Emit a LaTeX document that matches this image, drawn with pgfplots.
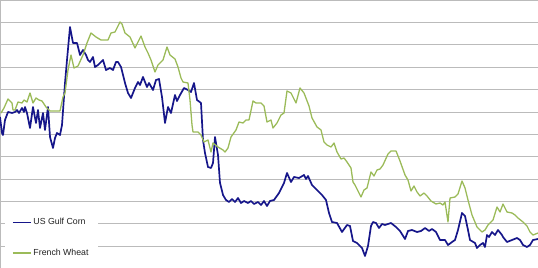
\documentclass[border=0pt]{standalone}
\usepackage{pgfplots}
\pgfplotsset{compat=1.18}
\usepackage{pgfplotstable}
\usepackage{fontspec}
\setmainfont{Liberation Sans}
\definecolor{corn}{HTML}{16168A}
\definecolor{wheat}{HTML}{9BBB59}
\definecolor{gridc}{HTML}{BBBBBB}

\pgfplotstableread{
x y
0 151
2 135
3 133
5 148
8 156
12 155
15 156
17 158
19 155
22 160
24 156
25 161
27 155
30 140
33 161
36 145
38 158
40 140
43 155
45 138
48 161
50 131
53 120
55 130
57 135
60 133
62 143
65 185
67 208
70 241
73 225
77 225
80 213
83 218
86 213
88 208
90 206
93 211
95 201
98 203
100 205
103 208
106 198
110 200
113 198
116 206
118 206
121 201
125 185
128 175
131 170
135 180
138 186
140 183
143 191
147 181
149 185
153 178
156 188
159 189
162 171
165 145
168 161
171 155
175 173
177 167
180 173
184 180
188 178
191 176
194 185
197 168
201 165
203 128
205 115
208 101
211 100
213 105
215 131
218 113
220 85
223 73
226 68
229 66
232 69
235 66
238 70
241 65
244 67
248 65
251 67
254 64
258 66
261 63
264 67
267 62
270 67
274 68
279 75
284 85
287 95
291 86
294 91
299 90
304 93
306 89
308 92
312 83
317 78
322 73
326 68
329 55
332 46
337 45
342 36
347 43
350 42
353 27
357 25
362 20
365 12
368 22
371 42
373 46
376 45
379 40
382 44
385 43
391 45
396 41
400 37
405 29
408 37
412 38
417 36
421 37
425 40
429 37
432 39
436 36
440 28
445 28
448 23
452 26
455 28
458 38
462 55
465 52
468 38
470 28
475 25
477 20
480 23
483 25
485 21
487 33
489 31
492 36
495 33
498 38
502 33
503 31
507 26
512 28
517 30
520 28
523 23
527 21
530 23
533 28
538 29
}\corn

\pgfplotstableread{
x y
1 155
4 160
8 169
12 165
13 158
15 158
18 166
22 165
24 168
27 166
30 175
33 165
36 170
39 168
42 167
46 161
50 157
60 157
63 171
65 175
68 198
71 213
74 200
78 202
83 213
87 225
91 235
96 231
101 228
108 228
111 235
115 236
120 246
122 244
125 235
130 231
135 220
138 226
141 232
145 221
148 215
151 208
155 196
158 203
163 208
167 221
170 213
175 209
178 201
181 190
183 186
188 185
190 168
192 143
193 136
198 136
201 133
204 126
208 128
211 116
213 125
218 121
223 118
225 116
228 120
231 131
236 138
239 146
243 145
246 148
249 148
253 167
256 165
261 165
264 162
267 146
271 148
273 140
277 145
281 153
284 155
287 177
291 175
296 165
300 180
304 175
309 162
312 150
317 141
321 138
324 126
327 123
331 121
334 125
337 116
341 109
344 110
347 106
351 100
353 86
355 83
359 75
361 71
364 78
367 80
369 88
371 96
374 92
377 98
380 99
383 103
388 114
391 117
396 117
400 107
405 93
408 88
411 77
414 82
417 76
420 72
424 75
427 72
431 67
436 64
440 65
443 63
445 66
448 46
450 70
455 71
458 74
462 87
465 80
468 68
472 53
477 41
482 36
485 38
488 43
493 48
497 61
500 56
503 64
507 56
512 55
515 53
518 50
523 46
527 42
530 36
533 33
538 35
}\wheat

\begin{document}
\begin{tikzpicture}
\begin{axis}[
  at={(0,0)}, anchor=south west,
  width=538bp, height=268bp, scale only axis,
  xmin=0, xmax=538, ymin=0, ymax=268,
  axis line style={draw=none},
  xtick=\empty,
  ytick={21.7,44.1,66.5,88.8,111.2,133.5,155.9,178.3,200.6,223,245.3,267.7},
  yticklabels={},
  major tick length=0pt,
  ymajorgrids,
  grid style={draw=gridc, line width=1bp},
  clip=false,
  legend cell align=left,
  legend style={at={(5/538,0)}, anchor=south west, draw=none, fill=white,
    font=\fontsize{8.8}{10.5}\selectfont\color[HTML]{222222},
    inner xsep=7bp, inner ysep=9bp, row sep=18.5bp},
  legend image code/.code={\draw[#1, line width=1.3bp] (0bp,0bp) -- (18bp,0bp);},
]
\draw[gridc, line width=1bp] (rel axis cs:0,0) -- (rel axis cs:0,1);
\addplot[corn, line width=1.7bp, line join=round] table[x=x,y=y] {\corn};
\addlegendentry{US Gulf Corn}
\addplot[wheat, line width=1.3bp, line join=round] table[x=x,y=y] {\wheat};
\addlegendentry{French Wheat}
\end{axis}
\pgfresetboundingbox
\useasboundingbox (0,0) rectangle (538bp,268bp);
\end{tikzpicture}
\end{document}
